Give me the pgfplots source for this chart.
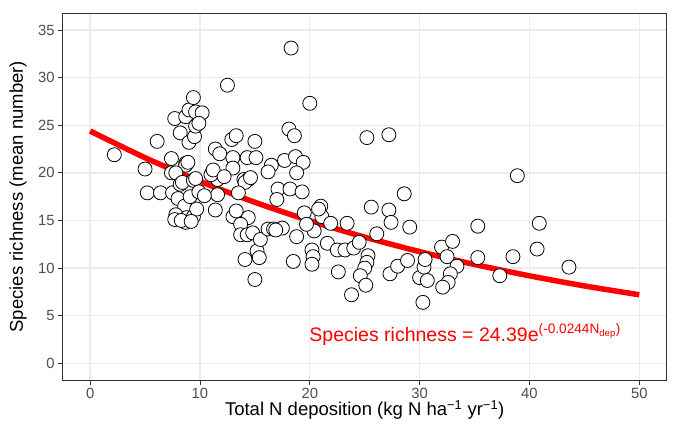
\documentclass[border=0pt]{standalone}
\usepackage{fontspec}
\setmainfont{Liberation Sans}
\usepackage{pgfplots}
\pgfplotsset{compat=1.18}

\definecolor{gridgray}{HTML}{EBEBEB}
\definecolor{framegray}{HTML}{333333}
\definecolor{ticktext}{HTML}{4D4D4D}

\begin{document}
\begin{tikzpicture}
\begin{axis}[
    scale only axis,
    width=604pt, height=366.7pt,
    xmin=-2.5, xmax=52.5,
    ymin=-1.75, ymax=36.75,
    xtick={0,10,...,50},
    ytick={0,5,...,35},
    grid=major,
    major grid style={gridgray, line width=1.4pt},
    axis line style={framegray, line width=0.9pt},
    tick align=outside,
    major tick length=4.6pt,
    tick style={framegray, line width=0.9pt},
    xtick pos=bottom, ytick pos=left,
    /pgf/number format/assume math mode=true,
    ticklabel style={font=\fontsize{14.8}{17}\selectfont, text=ticktext},
    xlabel={Total N deposition (kg N ha\textsuperscript{−1} yr\textsuperscript{−1})},
    ylabel={Species richness (mean number)},
    label style={font=\fontsize{18.5}{22}\selectfont},
    xlabel style={at={(axis description cs:0.5,0)}, anchor=center, yshift=-30pt},
    ylabel style={at={(axis description cs:0,0.5)}, anchor=center, yshift=44.7pt},
]
\addplot[only marks, mark=*, mark size=7pt,
    mark options={fill=white, draw=black, line width=0.8pt}]
coordinates {
(2.2,21.9) (5.0,20.4) (5.2,17.9) (6.1,23.3) (6.4,17.9) (7.4,21.5) (7.4,20.0)
(7.7,25.7) (7.5,17.9) (8.2,24.2) (8.7,25.9) (8.7,21.0) (8.7,20.8) (7.8,20.0)
(8.2,18.8) (8.4,19.0) (8.0,17.3) (8.6,16.5) (7.8,15.6) (7.7,15.1) (8.8,15.3)
(8.7,14.8) (9.4,15.4) (9.7,16.2) (9.1,17.5) (9.4,19.2) (9.6,19.4) (9.9,18.0)
(9.0,23.2) (9.5,23.8) (9.6,24.9) (9.0,26.6) (9.6,26.4) (10.2,26.3) (9.4,27.9)
(12.5,29.2) (11.4,22.5) (11.8,22.0) (11.1,20.0) (11.6,19.3) (11.6,17.7)
(11.4,16.1) (11.0,19.8) (11.2,20.3) (12.9,23.5) (13.3,23.9) (13.0,21.6)
(14.3,21.6) (15.0,23.3) (15.1,21.6) (13.0,20.5) (14.0,19.3) (14.4,19.3)
(14.1,19.0) (14.6,19.5) (13.0,15.4) (13.3,16.0) (14.4,15.3) (13.7,14.6)
(13.7,13.5) (14.3,13.5) (14.8,13.7) (14.1,10.9) (15.0,8.8) (15.2,11.8)
(15.5,13.0) (15.4,11.1) (16.2,14.1) (16.7,14.1) (17.5,14.2) (16.5,20.8)
(16.2,20.1) (17.7,21.3) (18.7,21.7) (19.4,21.1) (18.8,20.0) (17.1,18.3)
(18.2,18.3) (19.3,18.0) (17.0,17.2) (18.3,33.1) (20.0,27.3) (18.1,24.6)
(18.6,23.9) (19.5,15.8) (21.0,16.5) (21.1,15.4) (21.9,14.7) (23.4,14.7)
(18.8,13.3) (20.4,13.9) (18.5,10.7) (20.2,11.9) (20.3,11.2) (20.2,10.4)
(21.6,12.6) (22.5,11.9) (23.2,11.9) (24.0,12.1) (24.5,12.7) (25.3,11.3)
(25.2,10.6) (25.0,10.0) (24.6,9.2) (25.1,8.2) (22.6,9.6) (23.8,7.2)
(25.2,23.7) (27.2,24.0) (28.6,17.8) (25.6,16.4) (27.2,16.1) (27.4,14.8)
(29.1,14.3) (26.1,13.6) (27.3,9.4) (28.0,10.2) (28.9,10.8) (30.0,9.0)
(30.4,10.1) (30.5,10.9) (30.7,8.7) (30.3,6.4) (32.0,12.2) (32.5,11.2)
(33.0,12.8) (33.4,10.2) (32.8,9.4) (32.6,8.5) (32.1,8.0) (35.3,14.4)
(35.3,11.1) (37.3,9.2) (38.5,11.2) (38.9,19.7) (40.7,12.0) (40.9,14.7)
(43.6,10.1) (8.3,15.0) (9.2,14.9) (10.4,17.6) (8.9,21.1) (9.9,25.2)
(12.2,19.6) (13.5,17.9) (16.9,14.0) (19.7,14.6) (20.8,16.2)
};
\addplot[red, line width=5.5pt, smooth] coordinates {
(0,24.39) (5,21.59) (10,19.11) (15,16.91) (20,14.97) (25,13.25)
(30,11.73) (35,10.38) (40,9.19) (45,8.13) (50,7.20)
};
\node[red, anchor=base west, inner sep=0pt, font=\fontsize{19.5}{22}\selectfont]
    at (axis cs:19.95,2.3)
    {Species richness = 24.39e\textsuperscript{(-0.0244N\textsubscript{dep})}};
\end{axis}
\path[use as bounding box] (-62.7pt,-49pt) rectangle (613.3pt,380pt);
\end{tikzpicture}
\end{document}
